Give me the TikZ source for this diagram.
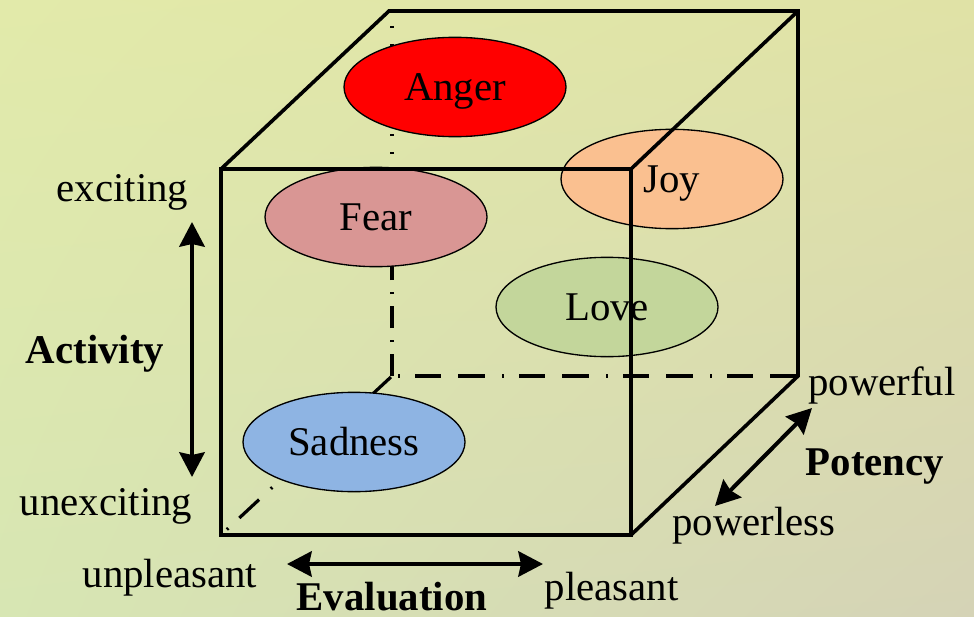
\documentclass[tikz,border=0pt]{standalone}
\usepackage{fontspec}
\setmainfont{Liberation Serif}
\usetikzlibrary{arrows.meta,shapes.geometric,shadings}
\definecolor{bgTL}{HTML}{E2EAAA}
\definecolor{bgTR}{HTML}{E0E2A6}
\definecolor{bgBL}{HTML}{D7E6B3}
\definecolor{bgBR}{HTML}{D5D3B6}
\definecolor{angerC}{HTML}{FF0000}
\definecolor{fearC}{HTML}{D99694}
\definecolor{joyC}{HTML}{FAC090}
\definecolor{loveC}{HTML}{C3D69B}
\definecolor{sadC}{HTML}{8EB4E3}
\begin{document}
\begin{tikzpicture}[x=0.75pt,y=-0.75pt,
  edge/.style={line width=2.7pt, line join=miter},
  hid/.style={line width=2.4pt},
  emo/.style={ellipse, draw, line width=1pt, minimum width=166.5pt, minimum height=74.5pt,
    inner sep=0pt, text height=19.5pt, text depth=0pt, font=\fontsize{30.6}{36}\selectfont},
  lab/.style={anchor=base, inner sep=0pt, font=\fontsize{30.6}{36}\selectfont},
  blab/.style={lab, font=\fontsize{30.6}{36}\selectfont\bfseries},
  axisarrow/.style={line width=3pt, {Stealth[length=18.5pt,width=19pt,inset=2pt]}-{Stealth[length=18.5pt,width=19pt,inset=2pt]}}
]
\useasboundingbox (0,0) rectangle (974,617);
\shade[upper left=bgTL, upper right=bgTR, lower left=bgBL, lower right=bgBR] (0,0) rectangle (974,617);

% cube corners
\coordinate (FTL) at (221,169);
\coordinate (FTR) at (631,169);
\coordinate (FBR) at (631,535);
\coordinate (FBL) at (221,535);
\coordinate (BTL) at (389,11);
\coordinate (BTR) at (798,11);
\coordinate (BBR) at (798,376);
\coordinate (BBL) at (392,376);
\coordinate (BVmid) at (392,250);
\coordinate (BVtop) at (392,26);

% hidden edges
\draw[hid, dash pattern=on 1.5pt off 11.25pt on 19.5pt off 12.75pt on 20.25pt off 12.75pt, dash phase=73.5pt] (BBL) -- (BBR);
\draw[hid, dash pattern=on 16.5pt off 9pt on 1.5pt off 9pt] (BBL) -- (BVmid);
\draw[hid, dash pattern=on 1.5pt off 12pt] (BVtop) -- (BVmid);
\draw[hid, dash pattern=on 1.5pt off 11.25pt on 20.25pt off 12pt, dash phase=39pt] (FBL) -- (BBL);

% emotions
\node[emo, fill=angerC] (anger) at (455,87) {Anger};
\node[emo, fill=fearC] (fear) at (376,217) {Fear};
\node[emo, fill=joyC] (joy) at (672,179) {Joy};
\node[emo, fill=loveC] (love) at (607,307) {Love};
\node[emo, fill=sadC] (sad) at (354,442) {Sadness};

% visible edges
\draw[edge] (FTL) -- (FTR) -- (FBR) -- (FBL) -- cycle;
\draw[edge] (FTL) -- (BTL) -- (BTR) -- (BBR) -- (FBR);
\draw[edge] (FTR) -- (BTR);

% axes
\coordinate (actTop) at (192,222);
\coordinate (actBot) at (192,477);
\coordinate (evL) at (287,564);
\coordinate (evR) at (543,564);
\coordinate (poLo) at (715,506);
\coordinate (poHi) at (812,408);
\draw[axisarrow] (actTop) -- (actBot);
\draw[axisarrow] (evL) -- (evR);
\draw[axisarrow] (poLo) -- (poHi);

% labels
\node[lab] (exciting) at (122.5,201) {exciting};
\node[blab] (activity) at (95,363) {Activity};
\node[lab] (unexciting) at (106,515) {unexciting};
\node[lab] (unpleasant) at (170,587) {unpleasant};
\node[blab] (evaluation) at (392,610) {Evaluation};
\node[lab] (pleasant) at (611.5,600) {pleasant};
\node[lab] (powerful) at (882,395) {powerful};
\node[blab] (potency) at (875,475) {Potency};
\node[lab] (powerless) at (754,535) {powerless};
\end{tikzpicture}
\end{document}
